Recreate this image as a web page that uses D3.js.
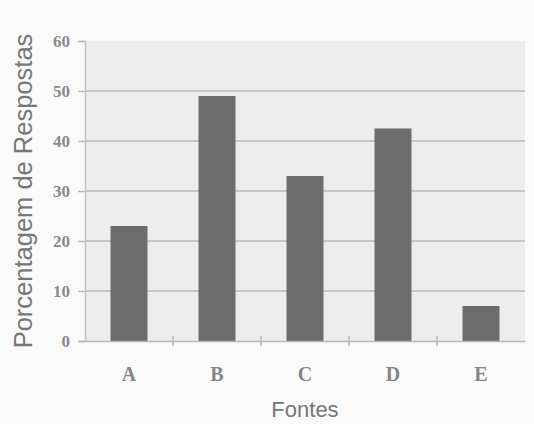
<!DOCTYPE html>
<html>
<head>
<meta charset="utf-8">
<script src="https://cdn.jsdelivr.net/npm/d3@7"></script>
<style>
  body { margin: 0; background: #fafafa; }
</style>
</head>
<body>
<script>
const fontes = ["A", "B", "C", "D", "E"];
const porcentagem = [23, 49, 33, 42.5, 7];
const yTicks = [0, 10, 20, 30, 40, 50, 60];

const width = 534, height = 424;
const margin = {top: 41, right: 9, bottom: 83, left: 85};

const svg = d3.select("body").append("svg")
    .attr("width", width)
    .attr("height", height);

const x = d3.scaleBand()
    .domain(fontes)
    .range([margin.left, width - margin.right])
    .paddingInner(0.58)
    .paddingOuter(0.29);

const y = d3.scaleLinear()
    .domain([0, 60])
    .range([height - margin.bottom, margin.top]);

// plot area background
svg.append("rect")
    .attr("x", margin.left)
    .attr("y", margin.top)
    .attr("width", width - margin.left - margin.right)
    .attr("height", height - margin.top - margin.bottom)
    .attr("fill", "#ededed");

// gridlines
svg.append("g")
    .selectAll("line")
    .data(yTicks.slice(1, -1))
    .join("line")
    .attr("x1", margin.left)
    .attr("x2", width - margin.right)
    .attr("y1", d => y(d))
    .attr("y2", d => y(d))
    .attr("stroke", "#b8b8b8")
    .attr("stroke-width", 1.5);

// bars
svg.append("g")
    .selectAll("rect")
    .data(fontes)
    .join("rect")
    .attr("x", d => x(d))
    .attr("width", x.bandwidth())
    .attr("y", (d, i) => y(porcentagem[i]))
    .attr("height", (d, i) => y(0) - y(porcentagem[i]))
    .attr("fill", "#6c6c6c");

// y axis
const yAxis = svg.append("g")
    .attr("transform", `translate(${margin.left},0)`)
    .call(d3.axisLeft(y).tickValues(yTicks).tickSize(7).tickPadding(8));
yAxis.select(".domain").attr("stroke", "#c4c4c4").attr("stroke-width", 1.5);
yAxis.selectAll(".tick line").attr("stroke", "#b8b8b8").attr("stroke-width", 1.5);
yAxis.selectAll("text")
    .attr("font-family", "Liberation Serif, serif")
    .attr("font-size", 17)
    .attr("font-weight", "bold")
    .attr("fill", "#8a8a8a");

// x axis
const xAxis = svg.append("g")
    .attr("transform", `translate(0,${y(0)})`)
    .call(d3.axisBottom(x).tickSize(0).tickPadding(26));
xAxis.select(".domain").attr("stroke", "#b8b8b8").attr("stroke-width", 1.5);
xAxis.selectAll("text")
    .attr("font-family", "Liberation Serif, serif")
    .attr("font-size", 20)
    .attr("font-weight", "bold")
    .attr("fill", "#858585");

// category separator ticks
const bounds = fontes.slice(1).map(d => x(d) - x.step() * x.paddingInner() / 2);
svg.append("g")
    .selectAll("line")
    .data(bounds)
    .join("line")
    .attr("x1", d => d)
    .attr("x2", d => d)
    .attr("y1", y(0) - 5)
    .attr("y2", y(0) + 5)
    .attr("stroke", "#b8b8b8")
    .attr("stroke-width", 1.5);

// axis titles
svg.append("text")
    .attr("x", (margin.left + width - margin.right) / 2)
    .attr("y", 417)
    .attr("text-anchor", "middle")
    .attr("font-family", "Liberation Sans, Arial, sans-serif")
    .attr("font-size", 22)
    .attr("fill", "#777")
    .text("Fontes");

svg.append("text")
    .attr("transform", `translate(32,${(margin.top + y(0)) / 2}) rotate(-90)`)
    .attr("text-anchor", "middle")
    .attr("font-family", "Liberation Sans, Arial, sans-serif")
    .attr("font-size", 25.5)
    .attr("fill", "#777")
    .text("Porcentagem de Respostas");
</script>
</body>
</html>
